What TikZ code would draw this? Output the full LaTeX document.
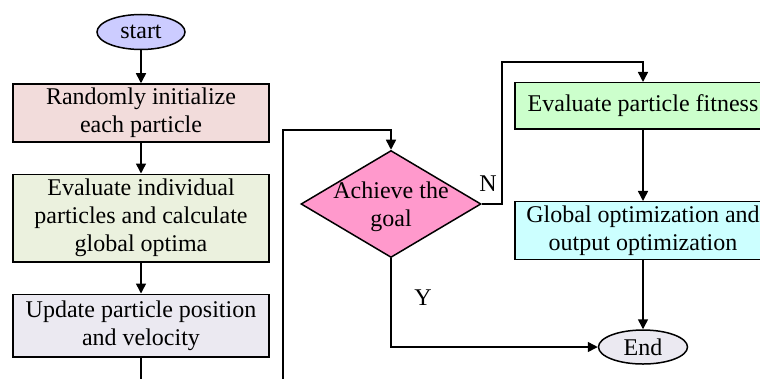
\documentclass[tikz,border=0pt]{standalone}
\usepackage{fontspec}
\setmainfont{Liberation Serif}
\usepackage{xcolor}
\usetikzlibrary{shapes,arrows.meta,positioning,calc}

\definecolor{startblue}{RGB}{204,204,255}
\definecolor{initpink}{RGB}{242,220,219}
\definecolor{evalgreen}{RGB}{235,241,222}
\definecolor{updgray}{RGB}{235,233,241}
\definecolor{goalpink}{RGB}{255,153,204}
\definecolor{fitgreen}{RGB}{204,255,204}
\definecolor{optcyan}{RGB}{204,255,255}

\begin{document}
\begin{tikzpicture}[
    x=0.5pt, y=-0.5pt,
    font=\fontsize{12}{14}\selectfont,
    terminal/.style={ellipse, draw, line width=0.75pt, minimum width=44pt, minimum height=17.5pt, inner sep=0pt},
    process/.style={rectangle, draw, line width=0.75pt, minimum width=128pt, align=center, inner sep=2pt},
    decision/.style={diamond, draw, line width=0.75pt, fill=goalpink, minimum width=90pt, minimum height=53.5pt, inner sep=0pt},
    arrow/.style={-{Triangle[length=5pt,width=5pt]}, line width=0.75pt},
    yesno/.style={inner sep=0pt}
]
    \useasboundingbox (0,0) rectangle (760,379);
    \clip (0,0) rectangle (760,379);

    % Left column
    \node[terminal, fill=startblue] (start) at (141,32) {start};
    \node[process, fill=initpink, minimum height=27.75pt, below=16.5pt of start] (init) {Randomly initialize\\each particle};
    \node[process, fill=evalgreen, minimum height=43.75pt, below=15.5pt of init] (evalind) {Evaluate individual\\particles and calculate\\global optima};
    \node[process, fill=updgray, minimum height=31.25pt, below=15.5pt of evalind] (update) {Update particle position\\and velocity};

    % Decision
    \node[decision] (goal) at (391,204) {};
    \node[align=center, inner sep=0pt] (goaltext) at (391,207) {Achieve the\\goal};

    % Right column
    \node[process, fill=fitgreen, minimum height=23.25pt] (fitness) at (643,106) {Evaluate particle fitness};
    \node[process, fill=optcyan, minimum height=27.75pt, below=35.5pt of fitness] (globalopt) {Global optimization and\\output optimization};
    \node[terminal, fill=updgray, minimum width=44.5pt, minimum height=17pt, below=34.5pt of globalopt] (finish) {End};

    % Turning points
    \coordinate (loopcorner) at (283,400);
    \coordinate (looptop) at (283,130);
    \coordinate (ntop) at (502,62);

    % Arrows - main flow
    \draw[arrow] (start) -- (init);
    \draw[arrow] (init) -- (evalind);
    \draw[arrow] (evalind) -- (update);
    \draw[arrow] (update.south) |- (loopcorner) |- (looptop) -| (goal.north);
    \draw[arrow] (goal.east) -| (ntop) -| (fitness.north);
    \draw[arrow] (fitness) -- (globalopt);
    \draw[arrow] (globalopt) -- (finish);
    \draw[arrow] (goal.south) |- (finish.west);

    % Labels
    \node[yesno] (nlabel) at (488,184) {N};
    \node[yesno] (ylabel) at (423,298) {Y};
\end{tikzpicture}
\end{document}
